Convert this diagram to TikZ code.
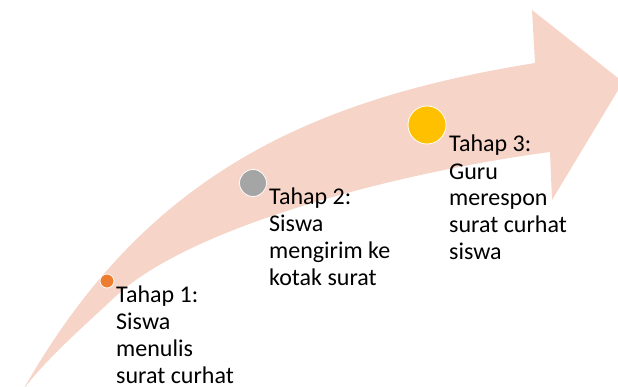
\documentclass[tikz,border=0pt]{standalone}
\usepackage{fontspec}
\setmainfont{Carlito}
\begin{document}
\begin{tikzpicture}[x=1pt,y=-1pt,
  arrowfill/.style={fill=arrowpink, draw=none},
  stepdot/.style={circle, draw=white, line width=0.8pt, inner sep=0pt},
  steptext/.style={anchor=base west, align=left, inner sep=0pt, font=\fontsize{24}{27}\selectfont, text=black}]
\definecolor{arrowpink}{HTML}{F6D4C8}
\definecolor{dotorange}{HTML}{ED7D31}
\definecolor{dotgray}{HTML}{A5A5A5}
\definecolor{dotyellow}{HTML}{FFC000}
\useasboundingbox (0,0) rectangle (618,387);
\begin{scope}
\clip (0,0) rectangle (618,387);
\fill[arrowfill] (23,390) .. controls (143,178) and (305,100) .. (535,63)
  -- (532,10) -- (623,82) -- (552,200) -- (550,152)
  .. controls (400,172) and (190,226) .. (115,297)
  .. controls (85,325) and (45,360) .. (23,390) -- cycle;
\end{scope}
\node[stepdot, fill=dotorange, minimum size=14pt] (d1) at (107,281) {};
\node[stepdot, fill=dotgray, minimum size=27pt] (d2) at (253,183) {};
\node[stepdot, fill=dotyellow, minimum size=38pt] (d3) at (427,125) {};
% base anchor = baseline of the last line
\node[steptext] (t1) at (116,383) {Tahap 1:\\Siswa\\menulis\\surat curhat};
\node[steptext] (t2) at (269,285) {Tahap 2:\\Siswa\\mengirim ke\\kotak surat};
\node[steptext] (t3) at (449,260) {Tahap 3:\\Guru\\merespon\\surat curhat\\siswa};
\end{tikzpicture}
\end{document}
